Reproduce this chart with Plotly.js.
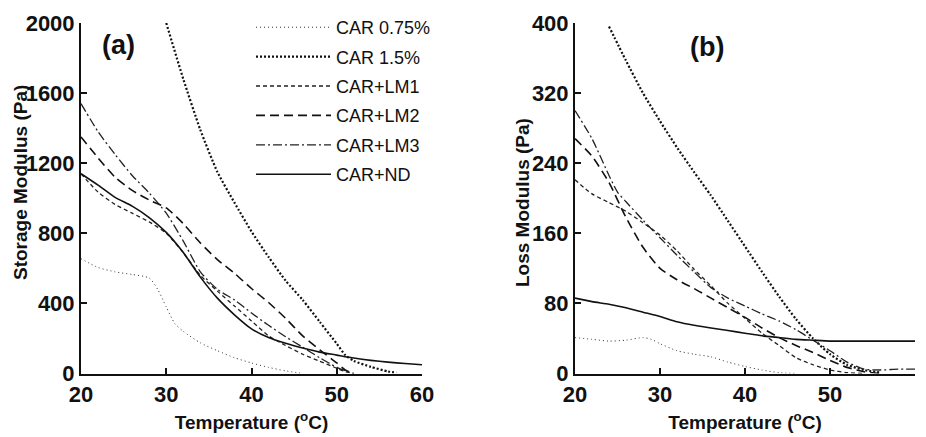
<!DOCTYPE html>
<html>
<head>
<meta charset="utf-8">
<script src="https://cdn.plot.ly/plotly-3.0.1.min.js"></script>
<style>html,body{margin:0;padding:0;background:#fff;}#chart{width:926px;height:437px;}</style>
</head>
<body>
<div id="chart"></div>
<script>
// ---- Legend names ----
var seriesNames = ["CAR 0.75%", "CAR 1.5%", "CAR+LM1", "CAR+LM2", "CAR+LM3", "CAR+ND"];

// ---- Panel (a): Storage modulus (Pa) vs temperature (°C) ----
var tA_075 = [20, 22, 24, 26, 28, 29, 30, 31, 32, 34, 36, 38, 40, 42, 44, 46];
var gA_075 = [655, 605, 580, 565, 545, 480, 380, 285, 240, 175, 130, 90, 60, 35, 15, 0];

var tA_15 = [30, 32, 34, 36, 38, 40, 42, 44, 46, 48, 50, 51, 52, 54, 56, 57];
var gA_15 = [2000, 1680, 1390, 1150, 975, 810, 665, 530, 420, 295, 170, 105, 72, 38, 12, 5];

var tA_LM1 = [20, 22, 24, 26, 28, 30, 32, 34, 36, 38, 40, 42, 44, 46, 48, 50, 51, 52];
var gA_LM1 = [1140, 1035, 965, 915, 865, 800, 690, 560, 470, 385, 300, 215, 160, 110, 70, 30, 10, 0];

var tA_LM2 = [20, 22, 24, 26, 28, 30, 32, 34, 36, 38, 40, 42, 44, 46, 48, 50, 51, 52];
var gA_LM2 = [1350, 1230, 1120, 1045, 990, 945, 855, 745, 650, 572, 485, 405, 315, 215, 135, 60, 20, 0];

var tA_LM3 = [20, 22, 24, 26, 28, 30, 32, 34, 36, 38, 40, 42, 44, 46, 48, 50, 51, 52];
var gA_LM3 = [1540, 1380, 1250, 1130, 1030, 915, 755, 580, 480, 420, 345, 275, 210, 150, 90, 35, 15, 0];

var tA_ND = [20, 22, 24, 26, 28, 30, 32, 34, 36, 38, 40, 42, 44, 46, 48, 50, 52, 54, 56, 58, 60];
var gA_ND = [1140, 1075, 1005, 955, 890, 805, 690, 550, 430, 335, 255, 205, 172, 145, 122, 105, 88, 75, 65, 57, 50];

// ---- Panel (b): Loss modulus (Pa) vs temperature (°C) ----
var tB_075 = [20, 22, 24, 26, 28, 29, 30, 32, 34, 36, 38, 40, 42, 44, 46];
var gB_075 = [41, 39, 37, 38, 41, 39, 34, 26, 22, 19, 13, 8, 4, 1, 0];

var tB_15 = [24, 26, 28, 30, 32, 34, 36, 38, 40, 42, 44, 46, 48, 50, 52, 54, 56];
var gB_15 = [396, 357, 320, 288, 258, 230, 203, 174, 145, 116, 88, 62, 40, 22, 10, 4, 1];

var tB_LM1 = [20, 22, 24, 26, 28, 30, 32, 34, 36, 38, 40, 42, 44, 46, 48, 50, 52, 54];
var gB_LM1 = [221, 205, 195, 185, 172, 158, 140, 119, 100, 80, 63, 46, 32, 18, 10, 4, 1, 0];

var tB_LM2 = [20, 22, 24, 26, 28, 30, 32, 34, 36, 38, 40, 42, 44, 46, 48, 50, 52, 54, 56];
var gB_LM2 = [268, 248, 218, 178, 144, 120, 107, 97, 86, 75, 64, 52, 41, 32, 24, 15, 7, 2, 0];

var tB_LM3 = [20, 22, 24, 25, 26, 28, 30, 32, 34, 36, 38, 40, 42, 44, 46, 48, 50, 52, 54, 56, 58, 60];
var gB_LM3 = [300, 268, 226, 207, 196, 175, 155, 135, 116, 98, 86, 77, 68, 60, 50, 38, 26, 13, 5, 4, 5, 5];

var tB_ND = [20, 22, 24, 26, 28, 30, 32, 34, 36, 38, 40, 42, 44, 46, 48, 50, 55, 60];
var gB_ND = [86, 82, 79, 75, 70, 65, 59, 55, 52, 49, 46, 43, 41, 39, 38, 37, 37, 37];

// ---- styles ----
var styles = [
  {color: "#333", width: 1, dash: "1px,3px"},
  {color: "#111", width: 2.2, dash: "2px,2px"},
  {color: "#222", width: 1.3, dash: "4px,3px"},
  {color: "#111", width: 1.6, dash: "9px,5px"},
  {color: "#222", width: 1.3, dash: "9px,3px,2px,3px"},
  {color: "#111", width: 1.6, dash: "solid"}
];

var panelA = [[tA_075, gA_075], [tA_15, gA_15], [tA_LM1, gA_LM1], [tA_LM2, gA_LM2], [tA_LM3, gA_LM3], [tA_ND, gA_ND]];
var panelB = [[tB_075, gB_075], [tB_15, gB_15], [tB_LM1, gB_LM1], [tB_LM2, gB_LM2], [tB_LM3, gB_LM3], [tB_ND, gB_ND]];

var traces = [];
panelA.forEach(function (s, i) {
  traces.push({x: s[0], y: s[1], xaxis: "x", yaxis: "y", type: "scatter", mode: "lines",
    name: seriesNames[i], legendgroup: "g" + i, showlegend: true,
    line: {color: styles[i].color, width: styles[i].width, dash: styles[i].dash, shape: "spline", smoothing: 0.6}});
});
panelB.forEach(function (s, i) {
  traces.push({x: s[0], y: s[1], xaxis: "x2", yaxis: "y2", type: "scatter", mode: "lines",
    name: seriesNames[i], legendgroup: "g" + i, showlegend: false,
    line: {color: styles[i].color, width: styles[i].width, dash: styles[i].dash, shape: "spline", smoothing: 0.6}});
});

var fam = "Liberation Sans, Arial, sans-serif";
var tickFont = {family: fam, size: 22, color: "#111", weight: 700};
var titleFont = {family: fam, size: 19, color: "#111", weight: 700};

function xAx(domain, anchor) {
  return {domain: domain, anchor: anchor, range: [20, 60], tickvals: [20, 30, 40, 50, 60],
    showline: true, linecolor: "#111", linewidth: 2, ticks: "inside", ticklen: 6, tickwidth: 2, tickcolor: "#111",
    showgrid: false, zeroline: false, tickfont: tickFont, automargin: false,
    title: {text: "Temperature (<sup>o</sup>C)", font: titleFont, standoff: 10}};
}
function yAx(domain, anchor, range, dtick) {
  return {domain: domain, anchor: anchor, range: range, tick0: 0, dtick: dtick,
    showline: true, linecolor: "#111", linewidth: 2, ticks: "inside", ticklen: 6, tickwidth: 2, tickcolor: "#111",
    showgrid: false, zeroline: false, tickfont: tickFont, automargin: false};
}

var yDom = [1 - 373.5 / 437, 1 - 23 / 437];
var layout = {
  width: 926, height: 437,
  margin: {l: 0, r: 0, t: 0, b: 0},
  paper_bgcolor: "#fff", plot_bgcolor: "#fff",
  showlegend: true,
  xaxis: xAx([81 / 926, 422 / 926], "y"),
  yaxis: yAx(yDom, "x", [0, 2000], 400),
  xaxis2: xAx([575 / 926, 915 / 926], "y2"),
  yaxis2: yAx(yDom, "x2", [0, 400], 80),
  legend: {x: 251 / 926, y: 1 - 9 / 437, xanchor: "left", yanchor: "top", bgcolor: "rgba(0,0,0,0)",
    font: {family: fam, size: 18, color: "#111"},
    tracegroupgap: 3, itemwidth: 75},
  annotations: [
    {text: "Storage Modulus (Pa)", xref: "paper", yref: "paper", x: 20 / 926, y: 1 - 183 / 437,
      xanchor: "center", yanchor: "middle", textangle: -90, showarrow: false, font: titleFont},
    {text: "Loss Modulus (Pa)", xref: "paper", yref: "paper", x: 523 / 926, y: 1 - 203 / 437,
      xanchor: "center", yanchor: "middle", textangle: -90, showarrow: false, font: titleFont},
    {text: "(a)", xref: "paper", yref: "paper", x: 118 / 926, y: 1 - 45 / 437, showarrow: false,
      xanchor: "center", yanchor: "middle", font: {family: fam, size: 27, color: "#111", weight: 700}},
    {text: "(b)", xref: "paper", yref: "paper", x: 707 / 926, y: 1 - 47 / 437, showarrow: false,
      xanchor: "center", yanchor: "middle", font: {family: fam, size: 27, color: "#111", weight: 700}}
  ]
};

Plotly.newPlot("chart", traces, layout, {displayModeBar: false, staticPlot: true});
</script>
</body>
</html>
